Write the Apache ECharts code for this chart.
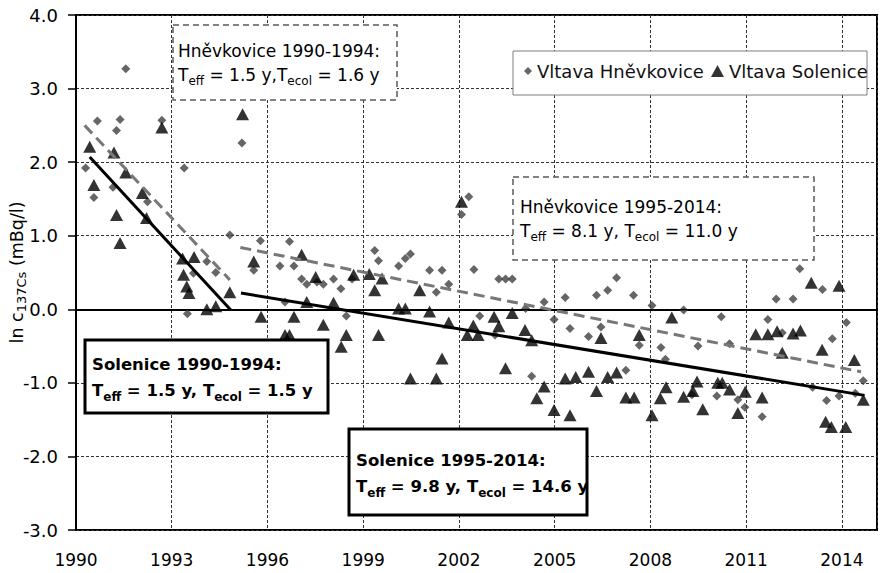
<!DOCTYPE html>
<html>
<head>
<meta charset="utf-8">
<script src="https://cdn.jsdelivr.net/npm/echarts@6/dist/echarts.min.js"></script>
<style>
  html, body { margin: 0; padding: 0; background: #ffffff; }
  #chart { width: 882px; height: 573px; }
</style>
</head>
<body>
<div id="chart"></div>
<script>
// Vltava at Hněvkovice: sampling time (decimal year) and ln of 137Cs activity (mBq/l)
const hnevYears = [
  1990.30, 1990.56, 1990.67, 1991.16, 1991.27, 1991.38, 1991.56, 1992.24, 1992.69, 1993.39,
  1993.49, 1993.68, 1994.10, 1994.38, 1994.82, 1995.20, 1995.57, 1995.78, 1996.39, 1996.55,
  1996.69, 1996.83, 1997.07, 1997.23, 1997.55, 1997.75, 1998.07, 1998.30, 1998.47, 1998.65,
  1999.36, 1999.48, 2000.11, 2000.32, 2000.48, 2001.08, 2001.29, 2001.47, 2001.68, 2002.08,
  2002.31, 2002.47, 2002.65, 2003.13, 2003.25, 2003.46, 2003.67, 2004.09, 2004.28, 2004.67,
  2004.98, 2005.33, 2005.48, 2006.06, 2006.31, 2006.45, 2006.66, 2006.94, 2007.23, 2007.47,
  2007.65, 2008.05, 2008.33, 2008.47, 2009.04, 2009.30, 2009.49, 2010.08, 2010.22, 2010.48,
  2010.74, 2010.96, 2011.50, 2011.68, 2011.94, 2012.13, 2012.47, 2012.68, 2013.08, 2013.39,
  2013.52, 2013.70, 2013.91, 2014.14, 2014.42, 2014.67
];
const hnevValues = [
  1.92, 1.52, 2.56, 1.66, 2.43, 2.58, 3.27, 1.46, 2.57, 1.92,
  -0.06, 0.49, 0.65, 0.50, 1.01, 2.26, 0.53, 0.93, 0.59, 0.10,
  0.92, 0.59, 0.41, 0.34, 0.37, 0.34, 0.41, 0.28, -0.09, 0.41,
  0.80, 0.66, 0.59, 0.69, 0.75, 0.53, 0.23, 0.53, 0.34, 1.29,
  1.53, 0.54, -0.09, -0.35, 0.41, 0.41, 0.41, 0.01, -0.91, 0.10,
  -0.14, 0.16, -0.26, -0.37, 0.19, -0.24, 0.26, 0.43, -0.83, 0.19,
  -0.49, 0.05, -0.52, -0.68, -0.01, -1.16, -0.50, -1.18, -0.10, -0.47,
  -1.23, -1.33, -1.46, -0.14, 0.14, -0.32, 0.14, 0.55, -1.06, 0.27,
  -1.24, -0.40, -1.18, -0.18, -1.14, -0.97
];

// Vltava at Solenice
const solYears = [
  1990.43, 1990.56, 1991.19, 1991.27, 1991.38, 1991.56, 1992.08, 1992.21, 1992.69, 1993.34,
  1993.37, 1993.47, 1993.54, 1993.70, 1994.10, 1994.38, 1994.82, 1995.22, 1995.57, 1995.80,
  1996.55, 1996.69, 1996.83, 1997.07, 1997.23, 1997.51, 1997.75, 1998.07, 1998.31, 1998.47,
  1998.70, 1999.19, 1999.36, 1999.48, 1999.59, 2000.11, 2000.32, 2000.48, 2000.77, 2001.08,
  2001.29, 2001.47, 2001.68, 2002.08, 2002.26, 2002.45, 2002.60, 2003.10, 2003.25, 2003.46,
  2003.67, 2004.07, 2004.28, 2004.44, 2004.67, 2004.98, 2005.33, 2005.48, 2005.66, 2006.06,
  2006.31, 2006.45, 2006.66, 2006.94, 2007.23, 2007.49, 2007.65, 2008.05, 2008.31, 2008.49,
  2008.67, 2009.04, 2009.33, 2009.46, 2009.64, 2010.11, 2010.25, 2010.48, 2010.74, 2010.97,
  2011.30, 2011.50, 2011.68, 2011.97, 2012.13, 2012.47, 2012.70, 2013.04, 2013.38, 2013.49,
  2013.67, 2013.91, 2014.12, 2014.39, 2014.67
];
const solValues = [
  2.21, 1.69, 2.13, 1.28, 0.90, 1.86, 1.58, 1.24, 2.47, 0.69,
  0.47, 0.31, 0.22, 0.71, 0.00, 0.04, 0.23, 2.65, 0.65, -0.10,
  -0.35, -0.35, -0.10, 0.74, 0.10, 0.44, -0.21, 0.09, -0.51, -0.35,
  0.47, 0.48, 0.26, -0.35, 0.42, 0.01, 0.01, -0.94, 0.26, -0.03,
  -0.94, -0.67, -0.18, 1.46, -0.35, -0.22, -0.35, -0.10, -0.23, -0.80,
  -0.05, -0.28, -0.42, -1.21, -1.05, -1.37, -0.94, -1.44, -0.92, -0.85,
  -1.11, -0.39, -0.92, -0.86, -1.20, -1.20, -0.35, -1.44, -1.21, -1.06,
  -0.11, -1.19, -1.11, -0.98, -1.36, -1.00, -1.00, -1.09, -1.41, -1.12,
  -0.34, -1.20, -0.34, -0.30, -0.59, -0.33, -0.29, 0.36, -0.55, -1.53,
  -1.60, 0.32, -1.60, -0.69, -1.23
];

// Fitted exponential decline (straight on the ln scale): start and end [year, ln c]
const hnevFit1990 = [[1990.27, 2.50], [1994.82, 0.40]];
const hnevFit1995 = [[1995.15, 0.84], [2014.60, -0.85]];
const solFit1990 = [[1990.43, 2.07], [1994.85, -0.01]];
const solFit1995 = [[1995.17, 0.22], [2014.71, -1.17]];

// Axis ranges and tick steps
const xRange = [1990, 2015.1];
const xStep = 3;
const yRange = [-3, 4];
const yStep = 1;

const seriesNames = ['Vltava Hněvkovice', 'Vltava Solenice'];

const FONT = "'DejaVu Sans', 'Liberation Sans', sans-serif";
const GRAY_TEXT = '#595959';

function pairs(xs, ys) {
  return xs.map((x, i) => [x, ys[i]]);
}

const gridLine = { color: '#333333', width: 1, type: [3, 2] };

const regular = {
  t: { fontFamily: FONT, fontSize: 17, lineHeight: 24, color: GRAY_TEXT },
  s: { fontFamily: FONT, fontSize: 12, lineHeight: 11, color: GRAY_TEXT, verticalAlign: 'bottom' }
};
const bold = {
  b: { fontFamily: FONT, fontSize: 16.5, fontWeight: 'bold', lineHeight: 26, color: '#000' },
  bs: { fontFamily: FONT, fontSize: 12, fontWeight: 'bold', lineHeight: 12, color: '#000', verticalAlign: 'bottom' }
};

function dashedBox(x, y, w, h) {
  return {
    type: 'rect', z: 20, shape: { x: x, y: y, width: w, height: h },
    style: { fill: '#fff', stroke: '#5a5a5a', lineWidth: 1.5, lineDash: [6, 4] }
  };
}
function solidBox(x, y, w, h) {
  return {
    type: 'rect', z: 20, shape: { x: x, y: y, width: w, height: h },
    style: { fill: '#fff', stroke: '#000', lineWidth: 3 }
  };
}
function boxText(x, yMid, text, rich) {
  return {
    type: 'text', z: 21, x: x, y: yMid,
    style: { text: text, rich: rich, verticalAlign: 'middle', align: 'left' }
  };
}

const option = {
  animation: false,
  backgroundColor: '#ffffff',
  textStyle: { fontFamily: FONT },
  grid: {
    left: 76, right: 5, top: 15, bottom: 43,
    containLabel: false, outerBoundsMode: 'none',
    show: true, borderColor: '#000', borderWidth: 2, backgroundColor: 'transparent'
  },
  xAxis: {
    type: 'value', min: xRange[0], max: xRange[1], interval: xStep,
    axisLine: { show: true, lineStyle: { color: '#000', width: 2 } },
    axisTick: { show: false },
    axisLabel: {
      color: '#000', fontFamily: FONT, fontSize: 17, margin: 21,
      showMaxLabel: false, hideOverlap: false,
      formatter: v => (Math.abs(v - Math.round(v)) < 1e-6 ? String(Math.round(v)) : '')
    },
    splitLine: { show: true, lineStyle: gridLine }
  },
  yAxis: {
    type: 'value', min: yRange[0], max: yRange[1], interval: yStep,
    name: '{m|ln c}{s|137Cs}{m| (mBq/l)}',
    nameLocation: 'middle', nameRotate: 90, nameGap: 48, nameMoveOverlap: false,
    nameTextStyle: {
      rich: {
        m: { fontFamily: FONT, fontSize: 17.5, lineHeight: 22, color: '#000' },
        s: { fontFamily: FONT, fontSize: 13, lineHeight: 12, color: '#000', verticalAlign: 'bottom' }
      }
    },
    axisLine: { show: true, lineStyle: { color: '#000', width: 2 } },
    axisTick: { show: true, length: 8, lineStyle: { color: '#000', width: 1.5 } },
    axisLabel: {
      color: '#000', fontFamily: FONT, fontSize: 18, margin: 18,
      formatter: v => v.toFixed(1)
    },
    splitLine: { show: true, lineStyle: gridLine }
  },
  legend: [
    {
      data: [seriesNames[0]], left: 524, top: 62, padding: 0,
      itemWidth: 8, itemHeight: 8, itemGap: 0, z: 30,
      textStyle: { fontFamily: FONT, fontSize: 18, color: '#111' }
    },
    {
      data: [seriesNames[1]], left: 711, top: 62, padding: 0,
      itemWidth: 13, itemHeight: 12, itemGap: 0, z: 30,
      textStyle: { fontFamily: FONT, fontSize: 18, color: '#111' }
    }
  ],
  series: [
    {
      name: seriesNames[0], type: 'scatter', symbol: 'diamond', symbolSize: 9,
      itemStyle: { color: '#404040' }, z: 3,
      data: pairs(hnevYears, hnevValues),
      markLine: {
        silent: true, symbol: 'none', label: { show: false },
        lineStyle: { color: '#000', width: 1.2, type: 'solid' },
        data: [{ yAxis: 0 }]
      }
    },
    {
      name: seriesNames[1], type: 'scatter', symbol: 'triangle', symbolSize: [13, 12],
      itemStyle: { color: '#000' }, z: 4,
      data: pairs(solYears, solValues)
    },
    {
      type: 'line', data: hnevFit1990, showSymbol: false, symbol: 'none', z: 5,
      lineStyle: { color: '#777', width: 3, type: [11, 6] }
    },
    {
      type: 'line', data: hnevFit1995, showSymbol: false, symbol: 'none', z: 5,
      lineStyle: { color: '#777', width: 3, type: [11, 6] }
    },
    {
      type: 'line', data: solFit1990, showSymbol: false, symbol: 'none', z: 6,
      lineStyle: { color: '#000', width: 3 }
    },
    {
      type: 'line', data: solFit1995, showSymbol: false, symbol: 'none', z: 6,
      lineStyle: { color: '#000', width: 3 }
    }
  ],
  graphic: [
    // legend frame
    {
      type: 'rect', z: 20, shape: { x: 513, y: 51, width: 354, height: 44 },
      style: { fill: '#fff', stroke: '#7f7f7f', lineWidth: 1 }
    },
    dashedBox(173, 25, 224, 75),
    boxText(178, 63, '{t|Hněvkovice 1990-1994:}\n{t|T}{s|eff}{t| = 1.5 y,T}{s|ecol}{t| = 1.6 y}', regular),
    dashedBox(513, 177, 301, 83),
    boxText(520, 219, '{t|Hněvkovice 1995-2014:}\n{t|T}{s|eff}{t| = 8.1 y, T}{s|ecol}{t| = 11.0 y}', regular),
    solidBox(85, 340, 243, 73),
    boxText(92, 377, '{b|Solenice 1990-1994:}\n{b|T}{bs|eff}{b| = 1.5 y, T}{bs|ecol}{b| = 1.5 y}', bold),
    solidBox(349, 429, 238, 86),
    boxText(356, 473, '{b|Solenice 1995-2014:}\n{b|T}{bs|eff}{b| = 9.8 y, T}{bs|ecol}{b| = 14.6 y}', bold)
  ]
};

const chart = echarts.init(document.getElementById('chart'), null, { renderer: 'svg' });
chart.setOption(option);
</script>
</body>
</html>
